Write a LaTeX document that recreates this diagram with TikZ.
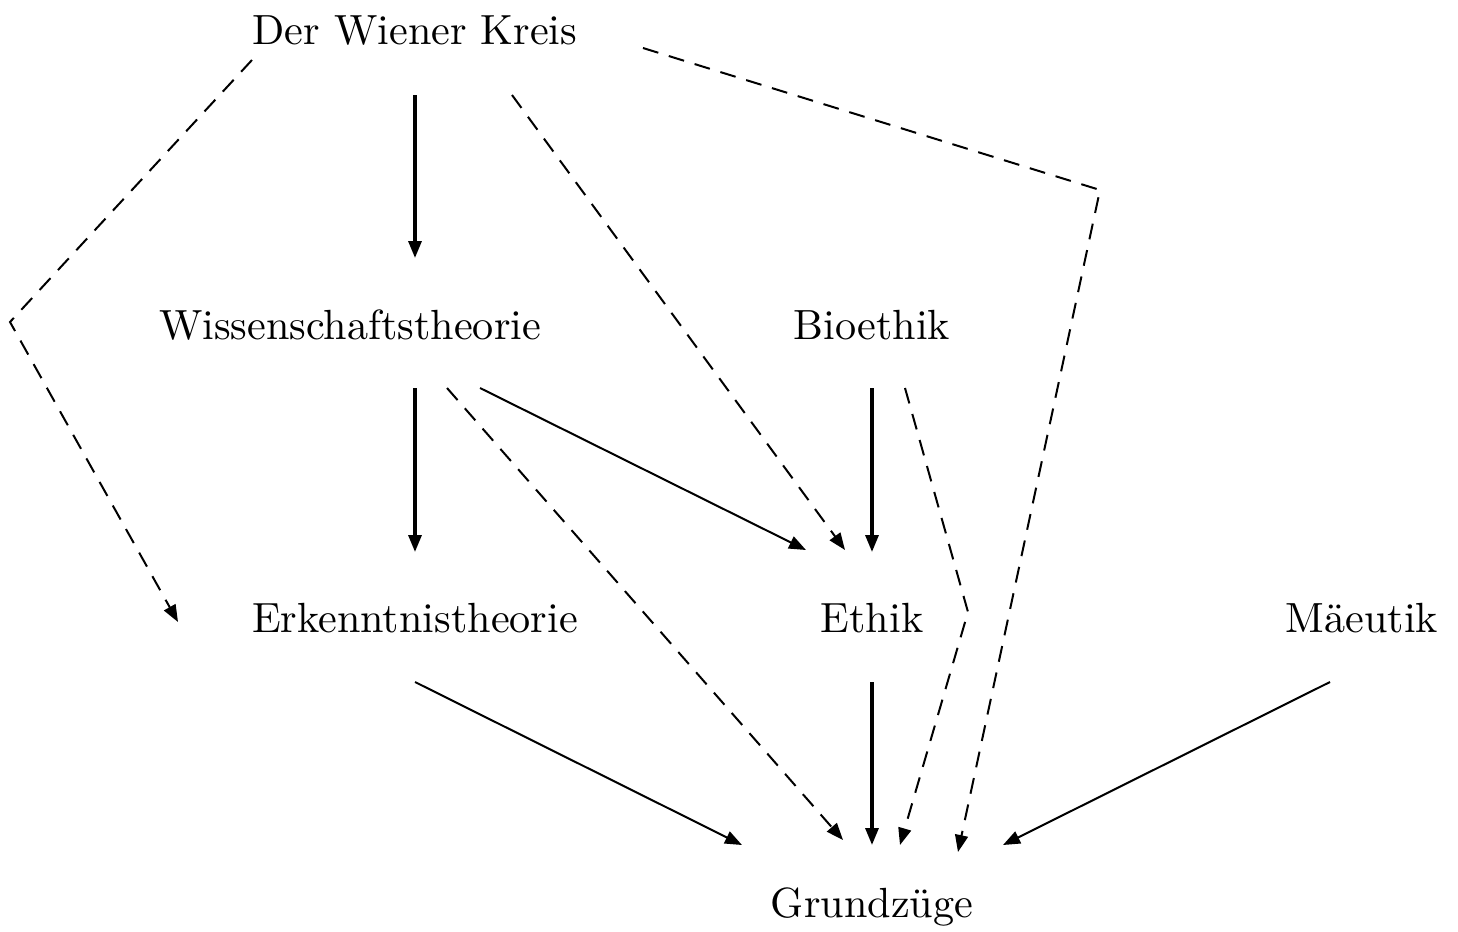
\documentclass[tikz,border=0pt]{standalone}
\usepackage{graphicx}
\usetikzlibrary{arrows.meta,calc}
\newcommand{\sctext}[1]{\scalebox{2.11}{#1}}
\begin{document}
\begin{tikzpicture}[x=0.5pt,y=-0.5pt,
  lbl/.style={inner sep=0pt,font=\fontsize{10}{12}\selectfont},
  edge/.style={line width=1pt,-{Triangle[length=8.5pt,width=6.5pt]}},
  vedge/.style={edge,line width=1.6pt},
  dedge/.style={edge,dash pattern=on 8pt off 5.5pt}]
\useasboundingbox (0,0) rectangle (1458,932);
\node[lbl] (dwk)   at (415,31)  {\sctext{Der Wiener Kreis}};
\node[lbl] (wiss)  at (350,325) {\sctext{Wissenschaftstheorie}};
\node[lbl] (bio)   at (872,325) {\sctext{Bioethik}};
\node[lbl] (erk)   at (415,618) {\sctext{Erkenntnistheorie}};
\node[lbl] (eth)   at (872,618) {\sctext{Ethik}};
\node[lbl] (mae)   at (1362,618) {\sctext{Mäeutik}};
\node[lbl] (grund) at (872,907) {\sctext{Grundzüge}};
\coordinate (b1) at (10,322);
\coordinate (b2) at (1100,190);
\coordinate (b3) at (968,612);
% solid vertical
\draw[vedge] ($(dwk)+(0,64)$) -- ($(wiss)+(65,-67)$);
\draw[vedge] ($(wiss)+(65,63)$) -- ($(erk)+(0,-66)$);
\draw[vedge] ($(bio)+(0,63)$) -- ($(eth)+(0,-66)$);
\draw[vedge] ($(eth)+(0,64)$) -- ($(grund)+(0,-62)$);
% solid diagonal
\draw[edge] ($(wiss)+(130,63)$) -- ($(eth)+(-66,-68)$);
\draw[edge] ($(erk)+(0,64)$) -- ($(grund)+(-130,-62)$);
\draw[edge] ($(mae)+(-32,64)$) -- ($(grund)+(131,-62)$);
% dashed
\draw[dedge] ($(dwk)+(97,64)$) -- ($(eth)+(-27,-68)$);
\draw[dedge] ($(dwk)+(-163,29)$) -- (b1) -- ($(erk)+(-237,4)$);
\draw[dedge] ($(dwk)+(228,17)$) -- (b2) -- ($(grund)+(86,-55)$);
\draw[dedge] ($(wiss)+(97,63)$) -- ($(grund)+(-29,-67)$);
\draw[dedge] ($(bio)+(33,63)$) -- (b3) -- ($(grund)+(28,-62)$);
\end{tikzpicture}
\end{document}
